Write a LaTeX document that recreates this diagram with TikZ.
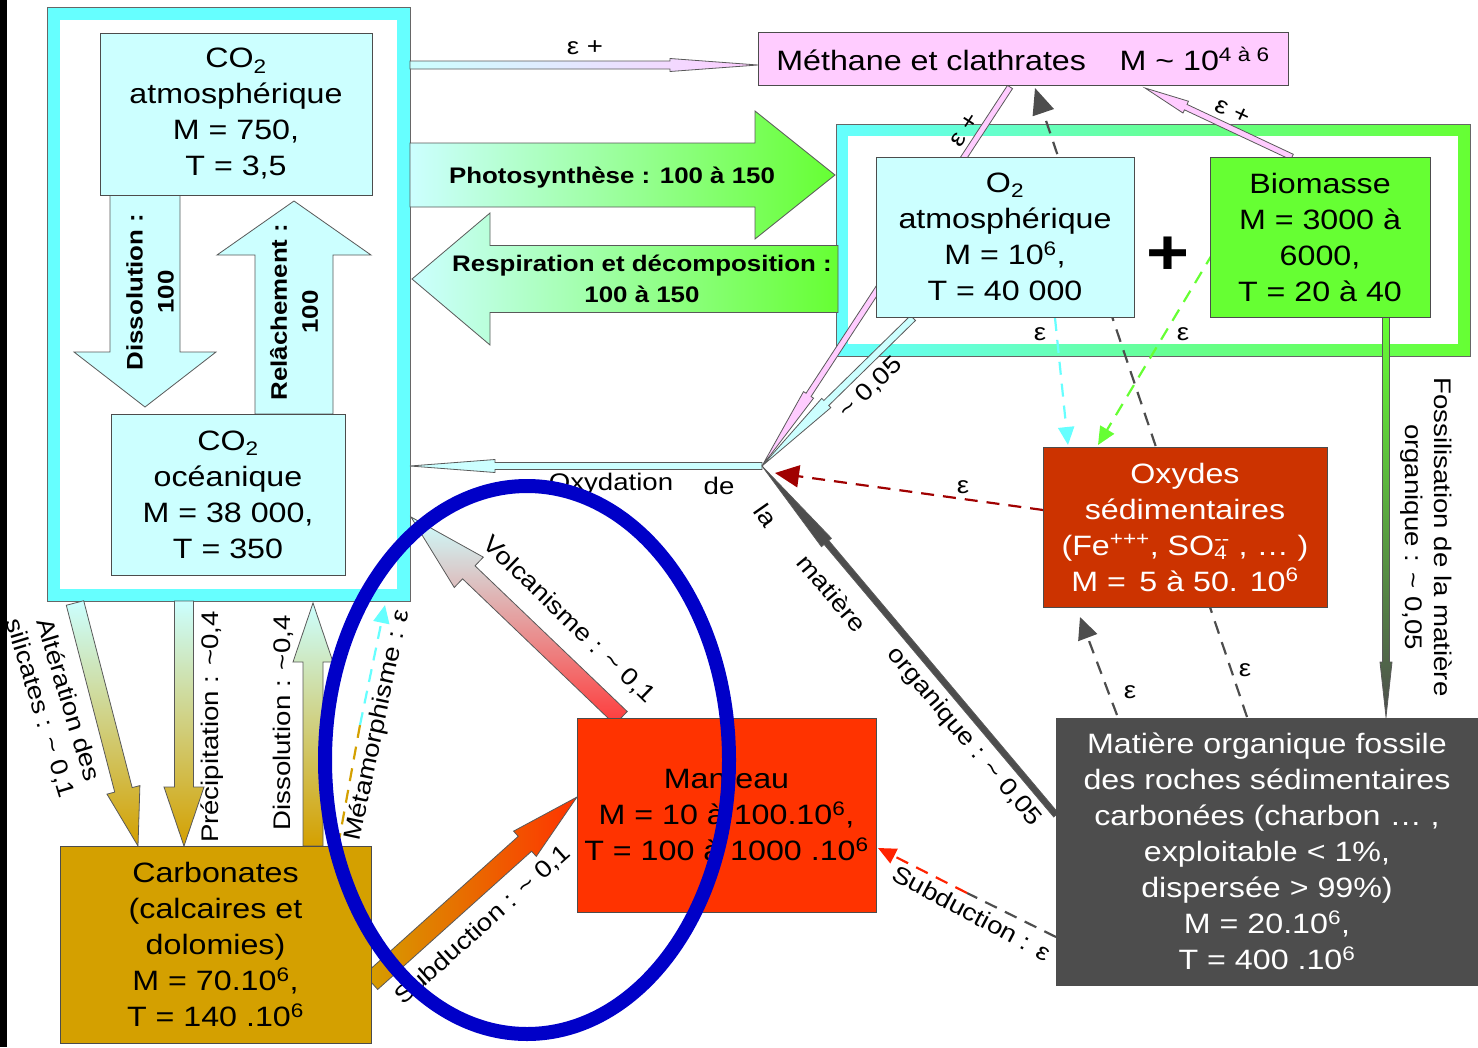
\documentclass[tikz,border=0pt]{standalone}
\usepackage{fontspec}
\setmainfont[FakeStretch=1.15]{Liberation Sans}
\usetikzlibrary{calc,arrows.meta}

\definecolor{cyanvif}{HTML}{66FFFF}
\definecolor{cyanpale}{HTML}{CCFFFF}
\definecolor{rose}{HTML}{FFCCFF}
\definecolor{vert}{HTML}{66FF33}
\definecolor{rouille}{HTML}{CC3300}
\definecolor{rougevif}{HTML}{FF3300}
\definecolor{rougeclair}{HTML}{FF3B3B}
\definecolor{ocre}{HTML}{D4A000}
\definecolor{anthracite}{HTML}{4D4D4D}
\definecolor{bleu}{HTML}{0000C8}
\definecolor{bordeaux}{HTML}{A00000}
\definecolor{rougetiret}{HTML}{FF2200}

\newcommand{\boxfont}{\fontsize{28}{36}\selectfont}
\newcommand{\flxfont}{\fontsize{22.5}{31}\selectfont\bfseries}
\newcommand{\lblfont}{\fontsize{24}{29}\selectfont}
\newcommand{\tld}{\textasciitilde}

% fat arrow: style, from, to, half shaft, half head, head length
\newcommand{\fleche}[6]{%
  \coordinate (fh) at ($(#3)!#6!(#2)$);
  \path[#1] ($(#2)!#4!90:(#3)$) -- ($(fh)!#4!90:(#3)$) -- ($(fh)!#5!90:(#3)$) -- (#3)
    -- ($(fh)!#5!-90:(#3)$) -- ($(fh)!#4!-90:(#3)$) -- ($(#2)!#4!-90:(#3)$) -- cycle;}

\tikzset{
  boite/.style={draw=black!70, line width=0.8pt, align=center, inner sep=0pt, font=\boxfont},
  cadre/.style={draw=black!60, line width=0.8pt, inner sep=0pt},
  grosse/.style={draw=black!65, line width=0.8pt},
  tiret/.style={line width=2.2pt, dash pattern=on 13pt off 9pt, -{Triangle[length=18pt,width=16pt]}},
  etiq/.style={font=\lblfont, inner sep=0pt},
  gras/.style={font=\flxfont, align=center, inner sep=0pt}
}

\begin{document}
\begin{tikzpicture}[x=1pt,y=-1pt]
\useasboundingbox (0,0) rectangle (1478,1047);
\fill[white] (0,0) rectangle (1478,1047);
\fill[black] (0,0) rectangle (7,1047);

% frames
\node[cadre, fill=cyanvif, minimum width=363pt, minimum height=594pt] (cadreC) at (228.5,304.5) {};
\fill[white] ([shift={(13,13)}]cadreC.north west) rectangle ([shift={(-13,-13)}]cadreC.south east);
\node[cadre, left color=cyanvif, right color=vert, minimum width=634pt, minimum height=232pt] (cadreV) at (1153,240) {};
\fill[white] ([shift={(12,12)}]cadreV.north west) rectangle ([shift={(-12,-12)}]cadreV.south east);

% end points
\coordinate (jonc) at (762,466);
\coordinate (dissA) at (145,195);  \coordinate (dissB) at (145,407);
\coordinate (relA) at (294,414);   \coordinate (relB) at (294,201);
\coordinate (photoA) at (410,175); \coordinate (photoB) at (835,175);
\coordinate (respA) at (838,279);  \coordinate (respB) at (412,279);
\coordinate (altA) at (75,603);    \coordinate (altB) at (138,846);
\coordinate (precA) at (184,601);  \coordinate (precB) at (184,846);
\coordinate (dcarA) at (313,846);  \coordinate (dcarB) at (313,603);
\coordinate (volcA) at (621,718);  \coordinate (volcB) at (411,517);
\coordinate (subA) at (371,982);   \coordinate (subB) at (577,797);
\coordinate (methA) at (410,65);   \coordinate (methB) at (758,65);
\coordinate (oxyB) at (410,466);
\coordinate (roseA) at (1010,87);
\coordinate (cyanA) at (913,318);
\coordinate (fossA) at (1056,815);
\coordinate (bioA) at (1292,157);  \coordinate (bioB) at (1145,88);
\coordinate (fzA) at (1386,317);   \coordinate (fzB) at (1386,717);

% big arrows
\fleche{grosse, fill=cyanpale}{dissA}{dissB}{35pt}{71pt}{55pt}
\fleche{grosse, fill=cyanpale}{relA}{relB}{39pt}{77pt}{54pt}
\fleche{grosse, left color=cyanpale, right color=vert}{photoA}{photoB}{32pt}{64pt}{80pt}
\fleche{grosse, left color=cyanpale, right color=vert}{respA}{respB}{33.5pt}{66pt}{78pt}
\fleche{grosse, top color=cyanpale, bottom color=ocre}{altA}{altB}{9pt}{17pt}{58pt}
\fleche{grosse, top color=cyanpale, bottom color=ocre}{precA}{precB}{9.5pt}{20pt}{59pt}
\fleche{grosse, top color=cyanpale, bottom color=ocre}{dcarA}{dcarB}{10pt}{20pt}{59pt}
\fleche{grosse, top color=cyanpale, bottom color=rougeclair}{volcA}{volcB}{9pt}{21pt}{80pt}
\fleche{grosse, left color=ocre, right color=rougevif}{subA}{subB}{10pt}{17pt}{70pt}

% thin arrows
\fleche{grosse, left color=cyanpale, right color=rose}{methA}{methB}{4pt}{6.5pt}{88pt}
\fleche{grosse, fill=cyanpale}{jonc}{oxyB}{3.5pt}{6.5pt}{85pt}
\fleche{grosse, fill=rose}{roseA}{jonc}{3pt}{6pt}{85pt}
\fleche{grosse, fill=cyanpale}{cyanA}{jonc}{3.5pt}{6.5pt}{90pt}
\fleche{grosse, fill=anthracite}{fossA}{jonc}{3pt}{6.5pt}{100pt}
\fleche{grosse, fill=rose}{bioA}{bioB}{3pt}{6.5pt}{45pt}
\fleche{grosse, top color=vert, bottom color=anthracite}{fzA}{fzB}{3.5pt}{6pt}{55pt}

% dashed fluxes
\coordinate (t1A) at (1247,717); \coordinate (t1B) at (1035,88);
\coordinate (t2A) at (1117,715); \coordinate (t2B) at (1080,617);
\coordinate (t3A) at (1055,318); \coordinate (t3B) at (1068,445);
\coordinate (t4A) at (1213,253); \coordinate (t4B) at (1098,445);
\coordinate (t5A) at (1043,510); \coordinate (t5B) at (775,473);
\coordinate (t6A) at (1056,937); \coordinate (t6M) at (967,893); \coordinate (t6B) at (878,848);
\coordinate (t7A) at (338,846);  \coordinate (t7M) at (360,725); \coordinate (t7B) at (385,605);
\draw[tiret, anthracite, -{Triangle[length=26pt,width=22pt]}] (t1A) -- (t1B);
\draw[tiret, anthracite, -{Triangle[length=22pt,width=20pt]}] (t2A) -- (t2B);
\draw[tiret, cyanvif] (t3A) -- (t3B);
\draw[tiret, vert] (t4A) -- (t4B);
\draw[tiret, bordeaux, -{Triangle[length=24pt,width=22pt]}] (t5A) -- (t5B);
\draw[tiret, anthracite, -] (t6A) -- (t6M);
\draw[tiret, rougetiret] (t6M) -- (t6B);
\draw[tiret, ocre, -] (t7A) -- (t7M);
\draw[tiret, cyanvif] (t7M) -- (t7B);

% reservoirs
\node[boite, fill=cyanpale, minimum width=272pt, minimum height=162pt] (co2atm) at (236,114)
  {CO\textsubscript{2}\\atmosphérique\\M = 750,\\T = 3,5};
\node[boite, fill=cyanpale, minimum width=234pt, minimum height=161pt] (co2oce) at (228,494.5)
  {CO\textsubscript{2}\\océanique\\M = 38 000,\\T = 350};
\node[boite, fill=rose, minimum width=530pt, minimum height=53pt] (methane) at (1023,58.5)
  {Méthane et clathrates\hspace{1.2em}M \tld{} 10\textsuperscript{4 à 6}};
\node[boite, fill=cyanpale, minimum width=258pt, minimum height=160pt] (o2) at (1005,237)
  {O\textsubscript{2}\\atmosphérique\\M = 10\textsuperscript{6},\\T = 40 000};
\node[boite, fill=vert, minimum width=220pt, minimum height=160pt] (biomasse) at (1320,237)
  {Biomasse\\M = 3000 à\\6000,\\T = 20 à 40};
\node[boite, fill=rouille, text=white, minimum width=284pt, minimum height=160pt] (oxydes) at (1185,527)
  {Oxydes\\sédimentaires\\(Fe\textsuperscript{+++}, SO\rlap{\textsubscript{4}}\textsuperscript{{-}{-}} , … )\\M = \,5 à 50. 10\textsuperscript{6}};
\node[boite, fill=rougevif, minimum width=299pt, minimum height=194pt] (manteau) at (726.5,815)
  {Manteau\\M = 10 à 100.10\textsuperscript{6},\\T = 100 à 1000 .10\textsuperscript{6}};
\node[boite, fill=ocre, minimum width=311pt, minimum height=197pt] (carbo) at (215.5,944.5)
  {Carbonates\\(calcaires et\\dolomies)\\M = 70.10\textsuperscript{6},\\T = 140 .10\textsuperscript{6}};
\node[boite, fill=anthracite, text=white, minimum width=422pt, minimum height=267pt] (fossile) at (1267,851.5)
  {Matière organique fossile\\des roches sédimentaires\\carbonées (charbon … ,\\exploitable < 1\%,\\dispersée > 99\%)\\M = 20.10\textsuperscript{6},\\T = 400 .10\textsuperscript{6}};
\node[font=\fontsize{64}{64}\selectfont\bfseries, inner sep=0pt] (plus) at (1168,256) {+};

% flux labels
\node[gras, rotate=90] (lDiss) at (150,292) {Dissolution :\\100};
\node[gras, rotate=90] (lRel) at (294,312) {Relâchement :\\100};
\node[gras] (lPhoto) at (612,178) {Photosynthèse : 100 à 150};
\node[gras] (lResp) at (642,279) {Respiration et décomposition :\\100 à 150};
\node[etiq, align=center, rotate=-73] (lAlt) at (54,704) {Altération des\\silicates : \tld{} 0,1};
\node[etiq, rotate=90] (lPrec) at (212,727) {Précipitation : \tld0,4};
\node[etiq, rotate=90] (lDcar) at (283,723) {Dissolution : \tld0,4};
\node[etiq, rotate=78] (lMeta) at (378,725) {Métamorphisme : ε};
\node[etiq, rotate=-44] (lVolc) at (569,620) {Volcanisme : \tld{} 0,1};
\node[etiq, rotate=42] (lSub) at (483,925) {Subduction : \tld{} 0,1};
\node[etiq, rotate=-28] (lSubE) at (972,913) {Subduction : ε};
\node[etiq] (lOx1) at (611,484) {Oxydation};
\node[etiq] (lOx2) at (719,486) {de};
\node[etiq, rotate=-55] (lOx3) at (766,515) {la};
\node[etiq, rotate=-50] (lOx4) at (832,593) {matière};
\node[etiq, rotate=-50] (lOx5) at (964,737) {organique : \tld{} 0,05};
\node[etiq, rotate=44] (lO2) at (871,388) {\tld{} 0,05};
\node[etiq, align=center, rotate=-90] (lFoss) at (1426,537) {Fossilisation de la matière\\organique : \tld{} 0,05};
\node[etiq] (e1) at (585,48) {ε +};
\node[etiq, rotate=57] (e2) at (965,130) {ε +};
\node[etiq, rotate=-25] (e3) at (1233,112) {ε +};
\node[etiq] (e4) at (1040,334) {ε};
\node[etiq] (e5) at (1183,334) {ε};
\node[etiq] (e6) at (963,487) {ε};
\node[etiq] (e7) at (1130,692) {ε};
\node[etiq] (e8) at (1245,670) {ε};

% highlight
\draw[bleu, line width=14pt] (527,760) ellipse [x radius=202, y radius=274];
\end{tikzpicture}
\end{document}
